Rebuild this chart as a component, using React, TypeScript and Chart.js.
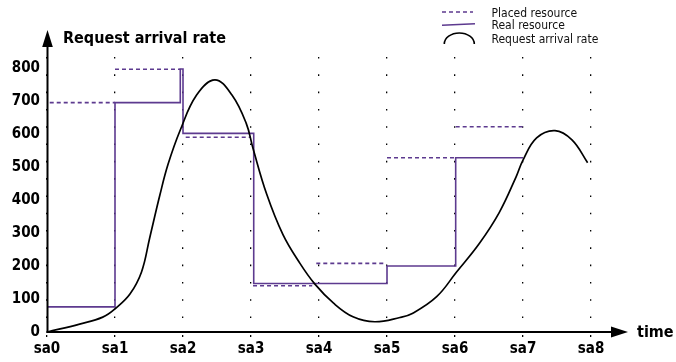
import React, { useEffect, useRef } from "react";
import { Chart, registerables } from "chart.js";

Chart.register(...registerables);

// ---- data ----
const xTickValues = [0, 1, 2, 3, 4, 5, 6, 7, 8];
const xTickLabels = ["sa0", "sa1", "sa2", "sa3", "sa4", "sa5", "sa6", "sa7", "sa8"];
const yTickValues = [0, 100, 200, 300, 400, 500, 600, 700, 800];

// Request arrival rate (smooth curve)
const curveX = [0, 0.48, 0.82, 1.01, 1.22, 1.39, 1.51, 1.66, 1.78, 1.96, 2.2, 2.47, 2.72, 2.93, 3.03, 3.23, 3.47, 3.72, 3.94, 4.21, 4.5, 4.82, 5.19, 5.38, 5.73, 6.02, 6.36, 6.65, 6.9, 7.0, 7.2, 7.47, 7.72, 7.95];
const curveY = [0, 24, 45, 72, 115, 182, 285, 415, 508, 612, 718, 764, 718, 632, 556, 418, 295, 208, 145, 88, 46, 31, 44, 57, 107, 181, 269, 362, 471, 521, 588, 610, 582, 513];

// Real resource (step line, explicit corners)
const realX = [0, 1, 1, 1.96, 1.96, 2.0, 2.0, 3.04, 3.04, 5.0, 5.0, 6.01, 6.01, 7.0];
const realY = [76, 76, 695, 695, 797, 797, 602, 602, 147, 147, 200, 200, 528, 528];

// Placed resource (separate dashed segments)
const placedStart = [0.04, 1.0, 2.04, 3.03, 3.96, 5.0, 6.01];
const placedEnd = [1.0, 1.96, 2.99, 3.9, 4.98, 5.99, 7.0];
const placedValue = [695, 796, 590, 140, 208, 528, 622];

const legendLabels = ["Placed resource", "Real resource", "Request arrival rate"];
const yAxisTitle = "Request arrival rate";
const xAxisTitle = "time";

const PURPLE = "#5d3a8f";
const FONT = "'DejaVu Sans Condensed', 'DejaVu Sans', sans-serif";

const decorPlugin = {
  id: "decor",
  afterDraw(chart: any) {
    const { ctx, chartArea, scales } = chart;
    const xs = scales.x;
    const ys = scales.y;
    const x0 = xs.getPixelForValue(0);
    const y0 = ys.getPixelForValue(0);
    ctx.save();
    ctx.strokeStyle = "#000";
    ctx.fillStyle = "#000";
    ctx.lineWidth = 2;
    ctx.setLineDash([]);
    // x axis
    const xEnd = chartArea.right;
    ctx.beginPath();
    ctx.moveTo(x0 - 0.5, y0);
    ctx.lineTo(xEnd - 14, y0);
    ctx.stroke();
    ctx.beginPath();
    ctx.moveTo(xEnd, y0);
    ctx.lineTo(xEnd - 17, y0 - 5.5);
    ctx.lineTo(xEnd - 17, y0 + 5.5);
    ctx.closePath();
    ctx.fill();
    // y axis
    const yTip = chartArea.top - 27;
    const ax = x0 + 0.5;
    ctx.beginPath();
    ctx.moveTo(ax, y0 + 1);
    ctx.lineTo(ax, yTip + 14);
    ctx.stroke();
    ctx.beginPath();
    ctx.moveTo(ax, yTip);
    ctx.lineTo(ax - 5.3, yTip + 17);
    ctx.lineTo(ax + 5.3, yTip + 17);
    ctx.closePath();
    ctx.fill();

    // axis titles
    ctx.textBaseline = "alphabetic";
    ctx.textAlign = "left";
    ctx.font = `bold 16px ${FONT}`;
    ctx.fillText(yAxisTitle, x0 + 16, yTip + 12.7);
    ctx.fillText(xAxisTitle, xEnd + 9, y0 + 5);

    // legend
    const lx = 442;
    ctx.lineWidth = 1.6;
    ctx.strokeStyle = PURPLE;
    ctx.setLineDash([4, 3]);
    ctx.beginPath();
    ctx.moveTo(lx, 12);
    ctx.lineTo(lx + 31, 12);
    ctx.stroke();
    ctx.setLineDash([]);
    ctx.beginPath();
    ctx.moveTo(lx, 25.3);
    ctx.lineTo(lx + 33, 23.7);
    ctx.stroke();
    ctx.strokeStyle = "#000";
    ctx.beginPath();
    ctx.ellipse(lx + 17.3, 44, 15, 11, 0, Math.PI, 2 * Math.PI);
    ctx.stroke();

    ctx.fillStyle = "#111";
    ctx.font = `12px ${FONT}`;
    ctx.fillText(legendLabels[0], 491.5, 16.5);
    ctx.fillText(legendLabels[1], 491.5, 29);
    ctx.fillText(legendLabels[2], 491.5, 42.5);
    ctx.restore();
  },
};

export default function App() {
  const ref = useRef<HTMLCanvasElement>(null);
  useEffect(() => {
    document.body.style.margin = "0";
    const placedData: any[] = [];
    placedStart.forEach((s, i) => {
      placedData.push({ x: s, y: placedValue[i] });
      placedData.push({ x: placedEnd[i], y: placedValue[i] });
      placedData.push({ x: placedEnd[i] + 0.001, y: null });
    });
    const chart = new Chart(ref.current as HTMLCanvasElement, {
      type: "line",
      data: {
        datasets: [
          {
            label: legendLabels[2],
            data: curveX.map((x, i) => ({ x, y: curveY[i] })),
            borderColor: "#000",
            borderWidth: 1.7,
            tension: 0.4,
            pointRadius: 0,
            fill: false,
          },
          {
            label: legendLabels[1],
            data: realX.map((x, i) => ({ x, y: realY[i] })),
            borderColor: PURPLE,
            borderWidth: 1.6,
            tension: 0,
            pointRadius: 0,
            fill: false,
          },
          {
            label: legendLabels[0],
            data: placedData,
            borderColor: PURPLE,
            borderWidth: 1.6,
            borderDash: [4, 3],
            tension: 0,
            pointRadius: 0,
            spanGaps: false,
            fill: false,
          },
        ],
      } as any,
      options: {
        animation: false,
        responsive: false,
        devicePixelRatio: 1,
        layout: { padding: { top: 57, right: 48, bottom: 0, left: 0 } },
        plugins: { legend: { display: false }, tooltip: { enabled: false } },
        scales: {
          x: {
            type: "linear",
            min: 0,
            max: 8.544,
            afterBuildTicks: (s: any) => {
              s.ticks = xTickValues.map((v) => ({ value: v }));
            },
            afterFit: (s: any) => {
              s.height = 30;
            },
            ticks: {
              autoSkip: false,
              maxRotation: 0,
              padding: 2,
              color: "#000",
              font: { family: FONT, size: 15, weight: "bold" },
              callback: (v: any) => xTickLabels[xTickValues.indexOf(Number(v))],
            },
            grid: {
              color: "#000",
              lineWidth: 1.3,
              drawTicks: true,
              tickLength: 6,
              tickColor: "#000",
              tickWidth: 1.3,
              tickBorderDash: [2, 20],
              tickBorderDashOffset: 19,
            },
            border: { display: false, dash: [1.6, 15.7], dashOffset: 0 },
          },
          y: {
            type: "linear",
            min: 0,
            max: 833.3,
            afterBuildTicks: (s: any) => {
              s.ticks = yTickValues.map((v) => ({ value: v }));
            },
            afterFit: (s: any) => {
              s.width = 47;
            },
            ticks: {
              padding: 7,
              color: "#000",
              font: { family: FONT, size: 15, weight: "bold" },
              callback: (v: any) => String(v),
            },
            grid: { display: false, drawTicks: false },
            border: { display: false },
          },
        },
      } as any,
      plugins: [decorPlugin],
    });
    return () => chart.destroy();
  }, []);
  return (
    <div style={{ width: 676, height: 362 }}>
      <canvas ref={ref} width={676} height={362} style={{ display: "block" }} />
    </div>
  );
}
